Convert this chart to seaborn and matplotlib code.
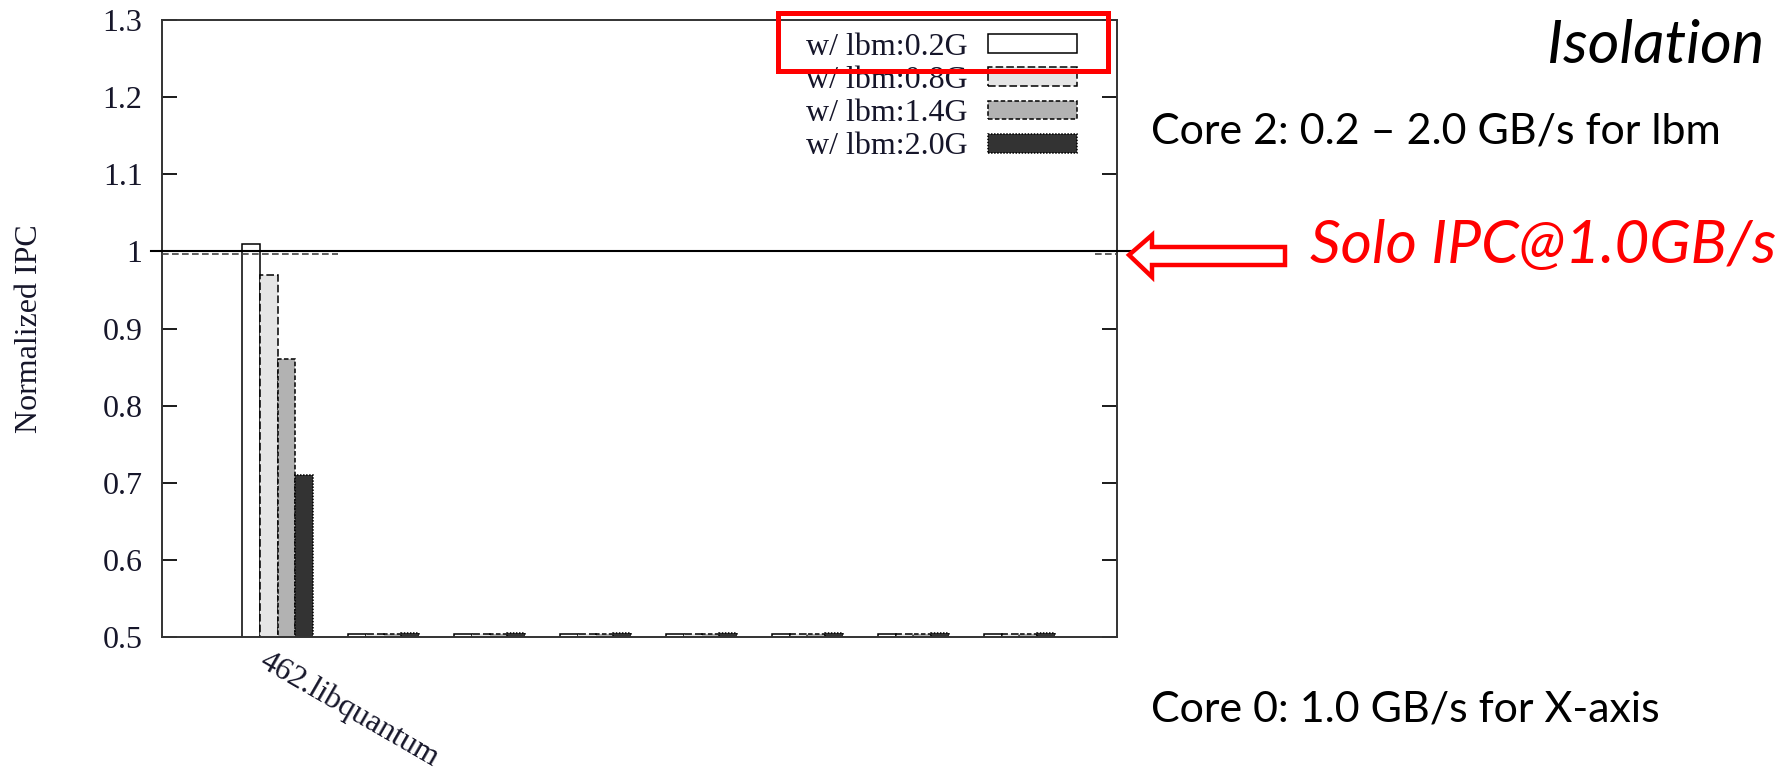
import numpy as np
import pandas as pd
import matplotlib
matplotlib.use('Agg')
import matplotlib.pyplot as plt
import seaborn as sns
from matplotlib.patches import Rectangle, Polygon
from matplotlib.transforms import blended_transform_factory, ScaledTranslation

# ---------------- data ----------------
benchmarks = ['462.libquantum', 'bench2', 'bench3', 'bench4',
              'bench5', 'bench6', 'bench7', 'bench8']
tick_labels = ['462.libquantum', '', '', '', '', '', '', '']
series = ['w/ lbm:0.2G', 'w/ lbm:0.8G', 'w/ lbm:1.4G', 'w/ lbm:2.0G']
ipc_lbm_02 = [1.01, 0.504, 0.504, 0.504, 0.504, 0.504, 0.504, 0.504]
ipc_lbm_08 = [0.97, 0.504, 0.504, 0.504, 0.504, 0.504, 0.504, 0.504]
ipc_lbm_14 = [0.86, 0.504, 0.504, 0.504, 0.504, 0.504, 0.504, 0.504]
ipc_lbm_20 = [0.71, 0.505, 0.505, 0.505, 0.505, 0.505, 0.505, 0.505]
y_ticks = [0.5, 0.6, 0.7, 0.8, 0.9, 1.0, 1.1, 1.2, 1.3]
y_tick_labels = ['0.5', '0.6', '0.7', '0.8', '0.9', '1', '1.1', '1.2', '1.3']
solo_ipc = 1.0

fills = ['#ffffff', '#e5e5e5', '#b2b2b2', '#333333']
edge_styles = ['-', (0, (5, 2)), (0, (3, 1.5)), (0, (1, 1))]

rows = []
for name, vals in zip(series, [ipc_lbm_02, ipc_lbm_08, ipc_lbm_14, ipc_lbm_20]):
    for b, v in zip(benchmarks, vals):
        rows.append({'benchmark': b, 'config': name, 'ipc': v})
df = pd.DataFrame(rows)

# ---------------- figure ----------------
plt.rcParams['font.family'] = ['Liberation Serif', 'DejaVu Serif']
W, H = 1790, 772
fig = plt.figure(figsize=(W / 100, H / 100), dpi=100)
fig.patch.set_facecolor('white')
ax = fig.add_axes([162 / W, 1 - 637 / H, (1117 - 162) / W, (637 - 20) / H])

sns.barplot(data=df, x='benchmark', y='ipc', hue='config', order=benchmarks,
            hue_order=series, palette=fills, saturation=1, width=0.67,
            edgecolor='black', linewidth=1.1, legend=False, ax=ax)

for cont, fc, ls in zip(ax.containers, fills, edge_styles):
    for p in cont.patches:
        p.set_facecolor(fc)
        p.set_edgecolor('black')
        p.set_linestyle(ls)
        p.set_linewidth(1.1)

text_col = '#16162a'
ax.set_ylim(0.5, 1.3)
ax.set_xlim(-1.09, 7.92)
ax.set_yticks(y_ticks)
ax.set_yticklabels(y_tick_labels)
ax.tick_params(axis='y', direction='in', length=11, width=1.4, right=True,
               labelsize=23, pad=14, colors='#1a1a1a', labelcolor=text_col)
ax.set_xticks(range(len(benchmarks)))
ax.set_xticklabels(tick_labels, rotation=-30, ha='left', va='top',
                   rotation_mode='anchor', fontsize=23, color=text_col)
ax.tick_params(axis='x', length=0, pad=0)
off = ScaledTranslation(-8 / 100, -9 / 100, fig.dpi_scale_trans)
for lbl in ax.get_xticklabels():
    lbl.set_transform(lbl.get_transform() + off)
ax.set_xlabel('')
ax.set_ylabel('Normalized IPC', fontsize=23, color=text_col)
ax.yaxis.set_label_coords((44 - 162) / 955, 0.5)
for s in ax.spines.values():
    s.set_linewidth(1.4)
    s.set_color('#333333')

# remnants of dashed reference line
bt = blended_transform_factory(ax.transAxes, ax.transData)
ax.plot([0, (338 - 162) / 955], [0.997, 0.997], transform=bt, color='#444444',
        lw=1.2, ls=(0, (4, 2)), zorder=4)
ax.plot([(1095 - 162) / 955, 1], [0.997, 0.997], transform=bt, color='#444444',
        lw=1.2, ls=(0, (4, 2)), zorder=4)

# solid solo-IPC line extending beyond the axes
ft = blended_transform_factory(fig.transFigure, ax.transData)
ax.plot([151 / W, 1154 / W], [solo_ipc, solo_ipc], transform=ft, color='black',
        lw=1.5, clip_on=False, zorder=6)

leg = ax.legend(ax.containers, series, loc='upper right',
                bbox_to_anchor=(1077 / W, 1 - 33 / H), bbox_transform=fig.transFigure,
                frameon=False, markerfirst=False, fontsize=23, handlelength=2.8,
                handleheight=0.53, handletextpad=0.62, labelspacing=0.13,
                borderpad=0, borderaxespad=0)
for t in leg.get_texts():
    t.set_color(text_col)

# red highlight box around first legend entry
def px(x, y):
    return (x / W, 1 - y / H)

x0, y0 = px(778.5, 70.5)
x1, y1 = px(1108.5, 13.5)
fig.patches.append(Rectangle((x0, y0), x1 - x0, y1 - y0, transform=fig.transFigure,
                             fill=False, edgecolor='#ff0000', linewidth=3.6, zorder=10))

# hollow red arrow
arrow_pts = [px(1129, 255), px(1152, 235), px(1152, 247), px(1285, 247),
             px(1285, 265), px(1152, 265), px(1152, 277)]
fig.patches.append(Polygon(arrow_pts, closed=True, transform=fig.transFigure,
                           facecolor='white', edgecolor='#ff0000', linewidth=3.2,
                           joinstyle='miter', zorder=10))

# slide texts
sans = ['Lato', 'DejaVu Sans']
fig.text(1764 / W, 1 - 63 / H, 'Isolation', ha='right', va='baseline',
         fontsize=44, style='italic', family=sans, color='black')
fig.text(1151 / W, 1 - 144 / H, 'Core 2: 0.2 \u2013 2.0 GB/s for lbm', ha='left',
         va='baseline', fontsize=31, family=sans, color='black')
fig.text(1310 / W, 1 - 263 / H, 'Solo IPC@1.0GB/s', ha='left', va='baseline',
         fontsize=43.5, style='italic', family=sans, color='#ff0000')
fig.text(1151 / W, 1 - 721 / H, 'Core 0: 1.0 GB/s for X-axis', ha='left',
         va='baseline', fontsize=31, family=sans, color='black')

fig.savefig('out.png', dpi=100, facecolor='white')
